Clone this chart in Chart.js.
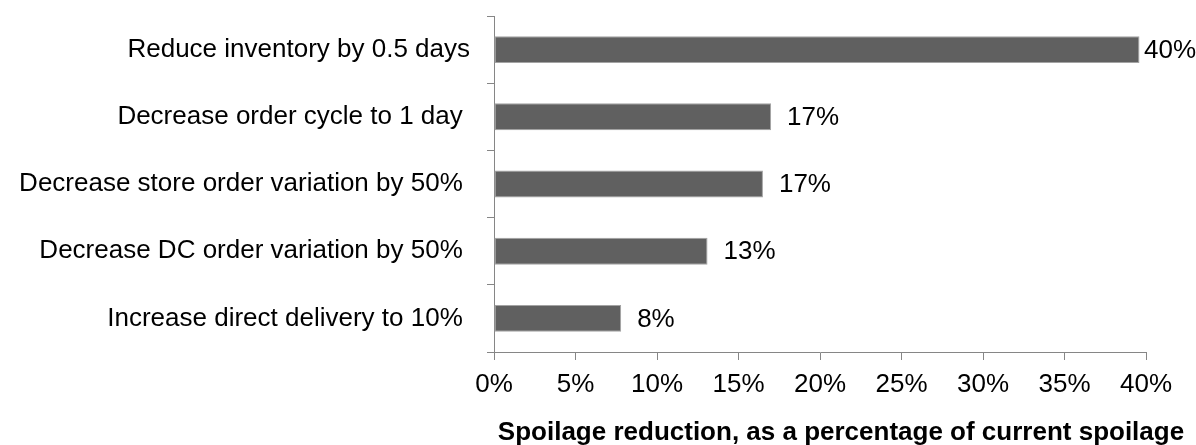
<!DOCTYPE html>
<html>
<head>
<meta charset="utf-8">
<script src="https://cdn.jsdelivr.net/npm/chart.js@4/dist/chart.umd.min.js"></script>
<style>
  html, body { margin: 0; padding: 0; background: #ffffff; }
  #wrap { width: 1196px; height: 445px; }
</style>
</head>
<body>
<div id="wrap"><canvas id="c" width="1196" height="445"></canvas></div>
<script>
// Measures, top to bottom (trailing spaces keep the right edges in line)
const categories = [
  "Reduce inventory by 0.5 days",
  "Decrease order cycle to 1 day ",
  "Decrease store order variation by 50% ",
  "Decrease DC order variation by 50% ",
  "Increase direct delivery to 10% "
];
// Spoilage reduction, percent of current spoilage
const reductionPct = [39.6, 17.0, 16.5, 13.1, 7.8];
// Tick values along the horizontal axis
const xTicks = [0, 5, 10, 15, 20, 25, 30, 35, 40];
const axisTitle = "Spoilage reduction, as a percentage of current spoilage";

const FONT = '"Liberation Sans", Arial, Helvetica, sans-serif';
const AXIS_GREY = '#868686';

// Percent labels just past the end of each bar, kept inside the canvas
const valueLabels = {
  id: 'valueLabels',
  afterDatasetsDraw(chart) {
    const ctx = chart.ctx;
    const meta = chart.getDatasetMeta(0);
    ctx.save();
    ctx.font = '26px ' + FONT;
    ctx.fillStyle = '#000000';
    ctx.textAlign = 'left';
    ctx.textBaseline = 'middle';
    meta.data.forEach((bar, i) => {
      const txt = Math.round(reductionPct[i]) + '%';
      const w = ctx.measureText(txt).width;
      const x = Math.min(bar.x + 16, chart.width - w);
      ctx.fillText(txt, x, bar.y + 1);
    });
    ctx.restore();
  }
};

// Bold axis caption under the tick labels
const bottomCaption = {
  id: 'bottomCaption',
  afterDraw(chart) {
    const ctx = chart.ctx;
    const xs = chart.scales.x;
    ctx.save();
    ctx.font = 'bold 26px ' + FONT;
    ctx.fillStyle = '#000000';
    ctx.textAlign = 'center';
    ctx.textBaseline = 'alphabetic';
    ctx.fillText(axisTitle, (xs.left + xs.right) / 2 + 21, 440);
    ctx.restore();
  }
};

new Chart(document.getElementById('c'), {
  type: 'bar',
  data: {
    labels: categories,
    datasets: [{
      data: reductionPct,
      backgroundColor: '#606060',
      borderColor: '#a3a3a3',
      borderWidth: 1,
      borderSkipped: false,
      barPercentage: 0.4,
      categoryPercentage: 1.0
    }]
  },
  options: {
    indexAxis: 'y',
    responsive: false,
    animation: false,
    layout: { padding: { top: 16, right: 50, left: 0, bottom: 0 } },
    plugins: {
      legend: { display: false },
      tooltip: { enabled: false }
    },
    scales: {
      x: {
        min: 0,
        max: 40,
        afterBuildTicks: s => { s.ticks = xTicks.map(v => ({ value: v })); },
        afterFit: s => { s.height = 93; },
        grid: { drawOnChartArea: false, tickLength: 8, color: AXIS_GREY, lineWidth: 1 },
        border: { color: AXIS_GREY, width: 1 },
        ticks: {
          padding: 9,
          color: '#000000',
          font: { family: FONT, size: 26 },
          maxRotation: 0,
          callback: v => v + '%'
        }
      },
      y: {
        offset: true,
        afterFit: s => { s.width = 494; s.paddingTop = 0; s.paddingBottom = 0; },
        grid: { offset: true, drawOnChartArea: false, tickLength: 7, color: AXIS_GREY, lineWidth: 1 },
        border: { color: AXIS_GREY, width: 1 },
        ticks: {
          padding: 17,
          color: '#000000',
          font: { family: FONT, size: 26 }
        }
      }
    }
  },
  plugins: [valueLabels, bottomCaption]
});
</script>
</body>
</html>
